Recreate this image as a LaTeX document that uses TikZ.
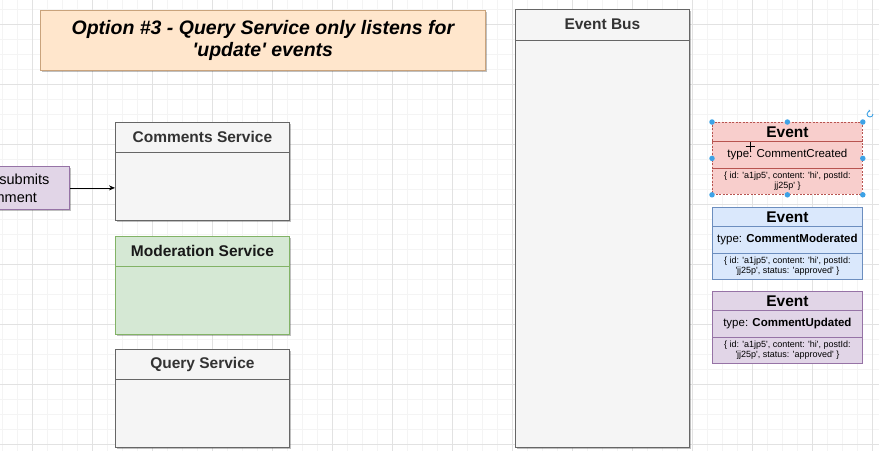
\documentclass[tikz,border=0pt]{standalone}
\usepackage{fontspec}
\setmainfont{Liberation Sans}
\usetikzlibrary{shadows,arrows.meta,calc}
\definecolor{gridminor}{HTML}{F4F4F4}
\definecolor{gridmajor}{HTML}{E2E2E2}
\definecolor{svcfill}{HTML}{F5F5F5}
\definecolor{svcline}{HTML}{666666}
\definecolor{svctext}{HTML}{333333}
\definecolor{modfill}{HTML}{D5E8D4}
\definecolor{modline}{HTML}{82B366}
\definecolor{ttlfill}{HTML}{FFE6CC}
\definecolor{ttlline}{HTML}{C9A37C}
\definecolor{redfill}{HTML}{F8CECC}
\definecolor{redline}{HTML}{B85450}
\definecolor{bluefill}{HTML}{DAE8FC}
\definecolor{blueline}{HTML}{6C8EBF}
\definecolor{purpfill}{HTML}{E1D5E7}
\definecolor{purpline}{HTML}{9673A6}
\definecolor{handlecol}{HTML}{3DA2E6}
\newcommand{\sq}{\textquotesingle}
\tikzset{
  shad/.style={drop shadow={shadow xshift=1.5pt,shadow yshift=-1.5pt,opacity=0.25,fill=black}},
  svc/.style={draw=svcline, fill=svcfill, line width=0.8pt, shad, inner sep=0pt},
  modsvc/.style={draw=modline, fill=modfill, line width=0.8pt, shad, inner sep=0pt},
  sep/.style={line width=0.8pt},
  svctitle/.style={font=\fontsize{15.5}{18}\selectfont\bfseries, text=svctext, inner sep=0pt},
  ttlbox/.style={draw=ttlline, fill=ttlfill, line width=0.8pt, shad, align=center,
     font=\fontsize{19.5}{22}\selectfont\bfseries\itshape, inner sep=0pt},
  card/.style={line width=0.8pt, inner sep=0pt, minimum width=150pt, minimum height=72pt, anchor=north west},
  evtitle/.style={font=\fontsize{15.5}{18}\selectfont\bfseries, inner sep=0pt},
  evtype/.style={font=\fontsize{11.5}{14}\selectfont, inner sep=0pt},
  evdata/.style={font=\fontsize{9}{10}\selectfont, align=center, inner sep=0pt},
  handle/.style={circle, fill=handlecol, inner sep=0pt, minimum size=5.5pt},
  userbox/.style={draw=purpline, fill=purpfill, line width=0.8pt, shad, align=center,
     font=\fontsize{14.5}{18}\selectfont, inner sep=0pt},
  conn/.style={-{Stealth[length=6pt,width=5pt]}, line width=0.7pt, black}
}
\begin{document}
\begin{tikzpicture}[x=1pt,y=-1pt]
\useasboundingbox (0,0) rectangle (879,451);
\clip (0,0) rectangle (879,451);
\fill[white] (0,0) rectangle (879,451);
% grid
\foreach \x in {2,17,...,877} \draw[gridminor, line width=0.5pt] (\x,0) -- (\x,451);
\foreach \y in {9,24,...,449} \draw[gridminor, line width=0.5pt] (0,\y) -- (879,\y);
\foreach \x in {32,92,...,872} \draw[gridmajor, line width=0.6pt] (\x,0) -- (\x,451);
\foreach \y in {24,84,...,444} \draw[gridmajor, line width=0.6pt] (0,\y) -- (879,\y);

% title
\node[ttlbox, minimum width=445pt, minimum height=60pt, anchor=north west] (title) at (40,10)
  {Option \#3 - Query Service only listens for\\\sq update\sq{} events};

% event bus
\node[svc, anchor=north west, minimum width=174pt, minimum height=438pt] (bus) at (515,9) {};
\draw[sep, svcline] ([yshift=-31pt]bus.north west) -- ([yshift=-31pt]bus.north east);
\node[svctitle] (bust) at ([yshift=-15pt]bus.north) {Event Bus};

% comments service
\node[svc, anchor=north west, minimum width=174pt, minimum height=98pt] (cs) at (115,122) {};
\draw[sep, svcline] ([yshift=-30pt]cs.north west) -- ([yshift=-30pt]cs.north east);
\node[svctitle] (cst) at ([yshift=-15pt]cs.north) {Comments Service};

% moderation service
\node[modsvc, anchor=north west, minimum width=174pt, minimum height=98pt] (ms) at (115,236) {};
\draw[sep, modline] ([yshift=-30pt]ms.north west) -- ([yshift=-30pt]ms.north east);
\node[svctitle, text=black!90] (mst) at ([yshift=-15pt]ms.north) {Moderation Service};

% query service
\node[svc, anchor=north west, minimum width=174pt, minimum height=98pt] (qs) at (115,349) {};
\draw[sep, svcline] ([yshift=-30pt]qs.north west) -- ([yshift=-30pt]qs.north east);
\node[svctitle] (qst) at ([yshift=-15pt]qs.north) {Query Service};

% user box (cut by the left edge, as in the reference)
\node[userbox, anchor=north east, minimum width=125pt, minimum height=43pt] (user) at (70,166)
  {User submits\\comment};
\draw[conn] (user.east) -- (user.east -| cs.west);

% event cards
\node[card, fill=redfill, draw=redline, dash pattern=on 2pt off 1.5pt] (e1) at (712,122) {};
\draw[sep, redline] ([yshift=-19pt]e1.north west) -- ([yshift=-19pt]e1.north east);
\draw[sep, redline] ([yshift=-46pt]e1.north west) -- ([yshift=-46pt]e1.north east);
\node[evtitle] (e1a) at ([yshift=-10pt]e1.north) {Event};
\node[evtype] (e1b) at ([yshift=-33pt]e1.north) {type: CommentCreated};
\node[evdata] (e1c) at ([yshift=-59.5pt]e1.north) {\{ id: \sq a1jp5\sq, content: \sq hi\sq, postId:\\jj25p\sq{} \}};

\node[card, fill=bluefill, draw=blueline] (e2) at (712,207) {};
\draw[sep, blueline] ([yshift=-19pt]e2.north west) -- ([yshift=-19pt]e2.north east);
\draw[sep, blueline] ([yshift=-46pt]e2.north west) -- ([yshift=-46pt]e2.north east);
\node[evtitle] (e2a) at ([yshift=-10pt]e2.north) {Event};
\node[evtype] (e2b) at ([yshift=-33pt]e2.north) {type: \textbf{CommentModerated}};
\node[evdata] (e2c) at ([yshift=-59.5pt]e2.north) {\{ id: \sq a1jp5\sq, content: \sq hi\sq, postId:\\\sq jj25p\sq, status: \sq approved\sq{} \}};

\node[card, fill=purpfill, draw=purpline] (e3) at (712,291) {};
\draw[sep, purpline] ([yshift=-19pt]e3.north west) -- ([yshift=-19pt]e3.north east);
\draw[sep, purpline] ([yshift=-46pt]e3.north west) -- ([yshift=-46pt]e3.north east);
\node[evtitle] (e3a) at ([yshift=-10pt]e3.north) {Event};
\node[evtype] (e3b) at ([yshift=-33pt]e3.north) {type: \textbf{CommentUpdated}};
\node[evdata] (e3c) at ([yshift=-59.5pt]e3.north) {\{ id: \sq a1jp5\sq, content: \sq hi\sq, postId:\\\sq jj25p\sq, status: \sq approved\sq{} \}};

% selection handles
\foreach \a in {north west,north,north east,west,east,south west,south,south east}
  \node[handle] at (e1.\a) {};
\coordinate (rot) at (870,114);
\draw[handlecol, line width=0.9pt, -{Stealth[length=2pt,width=2.5pt]}] ($(rot)+(3,0)$) arc[start angle=0, end angle=280, radius=3];
% move cursor
\coordinate (cur) at (750,146);
\draw[black, line width=1pt] ($(cur)+(-4.5,0)$) -- ($(cur)+(4.5,0)$) ($(cur)+(0,-4.5)$) -- ($(cur)+(0,4.5)$);
\end{tikzpicture}
\end{document}
